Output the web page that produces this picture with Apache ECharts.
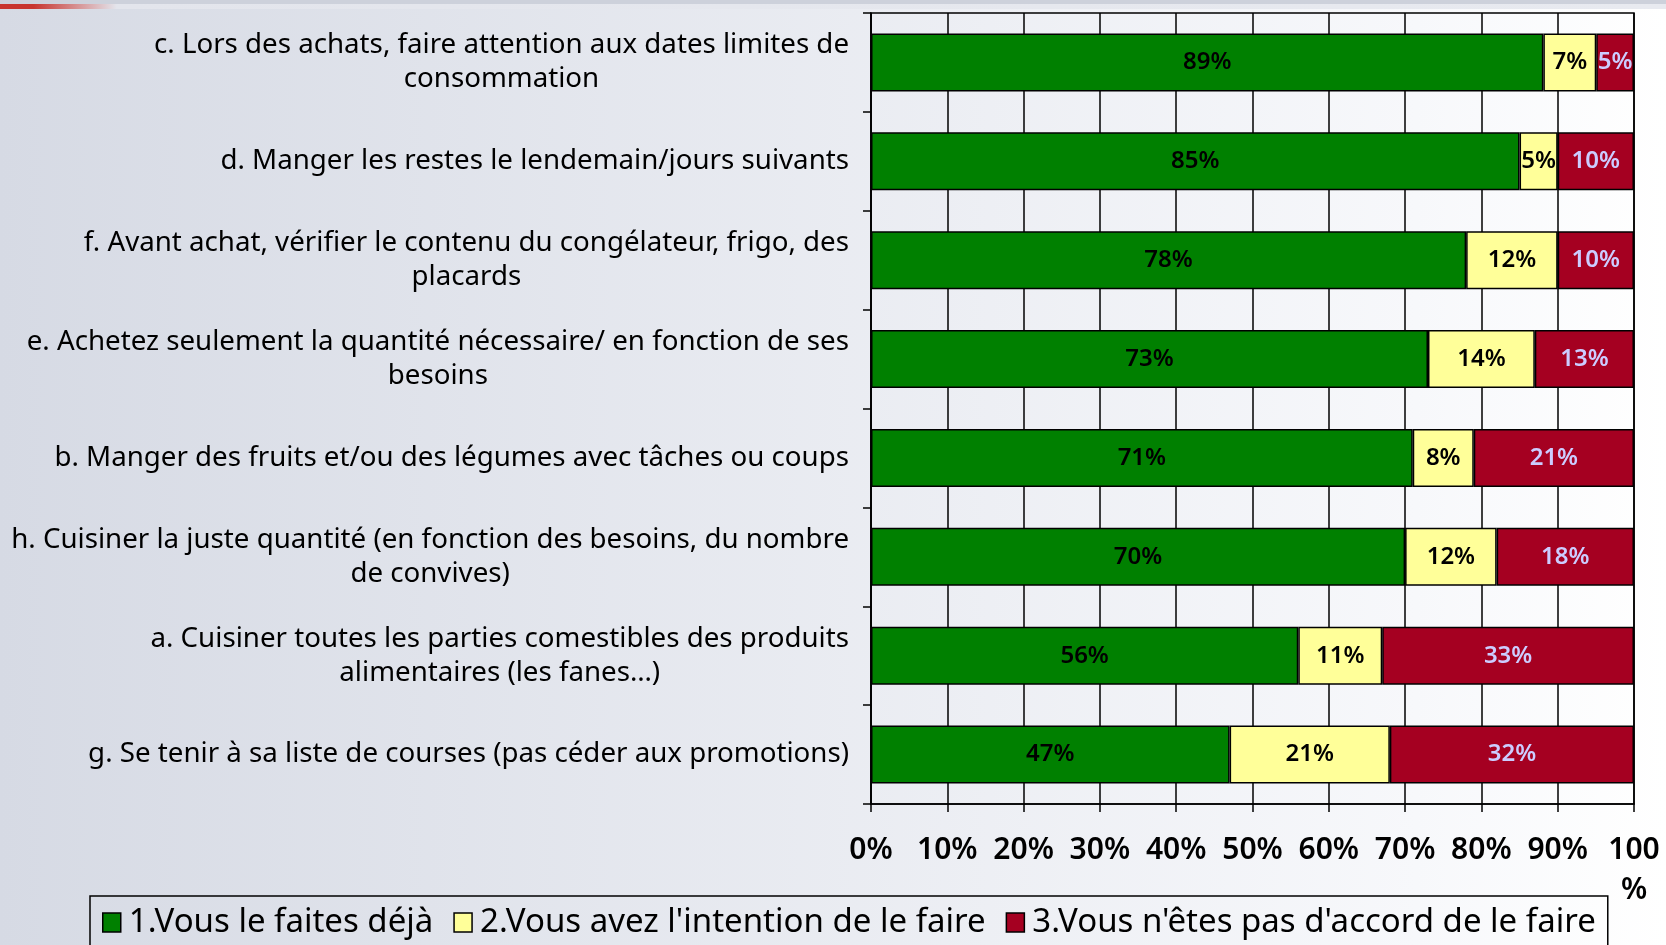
<!DOCTYPE html>
<html>
<head>
<meta charset="utf-8">
<script src="https://cdn.jsdelivr.net/npm/echarts@6/dist/echarts.min.js"></script>
<style>
  html, body { margin: 0; padding: 0; }
  #chart { width: 1666px; height: 945px; }
</style>
</head>
<body>
<div id="chart"></div>
<script>
// categories, top to bottom
var categories = [
  "c. Lors des achats, faire attention aux dates limites de\nconsommation",
  "d. Manger les restes le lendemain/jours suivants",
  "f. Avant achat, vérifier le contenu du congélateur, frigo, des\nplacards",
  "e. Achetez seulement la quantité nécessaire/ en fonction de ses\nbesoins",
  "b. Manger des fruits et/ou des légumes avec tâches ou coups",
  "h. Cuisiner la juste quantité (en fonction des besoins, du nombre\nde convives)",
  "a. Cuisiner toutes les parties comestibles des produits\nalimentaires (les fanes…)",
  "g. Se tenir à sa liste de courses (pas céder aux promotions)"
];
var seriesNames = [
  "1.Vous le faites déjà",
  "2.Vous avez l'intention de le faire",
  "3.Vous n'êtes pas d'accord de le faire"
];
var dejaFait  = [89, 85, 78, 73, 71, 70, 56, 47];
var intention = [7, 5, 12, 14, 8, 12, 11, 21];
var pasAccord = [5, 10, 10, 13, 21, 18, 33, 32];

var colors = ["#008000", "#FFFF99", "#A50021"];
var labelColors = ["#000000", "#000000", "#CCCCFF"];
var font = "Noto Sans";

var myChart = echarts.init(document.getElementById("chart"));

// 100% stacked: each row drawn as a share of its own total
function shares(arr) {
  return arr.map(function (v, i) {
    var total = dejaFait[i] + intention[i] + pasAccord[i];
    return { value: v / total * 100, raw: v };
  });
}

var all = [dejaFait, intention, pasAccord];
var series = all.map(function (arr, k) {
  return {
    name: seriesNames[k],
    type: "bar",
    stack: "total",
    barWidth: 58,
    data: shares(arr),
    itemStyle: { color: colors[k], borderColor: "#000", borderWidth: 1.5 },
    label: {
      show: true,
      position: "inside",
      color: labelColors[k],
      fontFamily: font,
      fontSize: 24,
      fontWeight: 600,
      formatter: function (p) { return p.data.raw + "%"; }
    },
    emphasis: { disabled: true }
  };
});

var option = {
  backgroundColor: new echarts.graphic.LinearGradient(0, 0, 1, 0, [
    { offset: 0, color: "#D6DAE4" },
    { offset: 0.85, color: "#F7F8FB" },
    { offset: 1, color: "#FFFFFF" }
  ]),
  animation: false,
  graphic: [
    {
      type: "rect",
      shape: { x: 0, y: 0, width: 1666, height: 4 },
      style: { fill: "#CDD1DB" }
    },
    {
      type: "rect",
      shape: { x: 0, y: 4, width: 1666, height: 5 },
      style: {
        fill: new echarts.graphic.LinearGradient(0, 0, 1, 0, [
          { offset: 0, color: "#C8342E" },
          { offset: 0.02, color: "#C8342E" },
          { offset: 0.07, color: "#E3E5EC" },
          { offset: 1, color: "#E8EAF0" }
        ])
      }
    }
  ],
  grid: {
    left: 871,
    right: 32,
    top: 13,
    bottom: 141,
    show: true,
    borderColor: "#000",
    borderWidth: 1.5,
    backgroundColor: "transparent"
  },
  legend: {
    data: seriesNames,
    left: 90,
    top: 896,
    padding: [10, 12, 30, 12],
    itemGap: 20,
    itemWidth: 18,
    itemHeight: 19,
    borderColor: "#000",
    borderWidth: 1.5,
    icon: "rect",
    itemStyle: { borderColor: "#000", borderWidth: 1.5 },
    textStyle: { fontFamily: font, fontSize: 33, color: "#000", padding: [0, 0, 0, 3] }
  },
  xAxis: {
    type: "value",
    min: 0,
    max: 100,
    interval: 10,
    axisLine: { show: true, lineStyle: { color: "#000", width: 1.5 } },
    axisTick: { show: true, length: 8, lineStyle: { color: "#000", width: 1.5 } },
    splitLine: { show: true, lineStyle: { color: "#000", width: 1.5 } },
    axisLabel: {
      margin: 26,
      fontFamily: font,
      fontSize: 30,
      fontWeight: 600,
      color: "#000",
      lineHeight: 40,
      formatter: function (v) { return v === 100 ? "100\n%" : v + "%"; }
    }
  },
  yAxis: {
    type: "category",
    inverse: true,
    data: categories,
    axisLine: { show: true, lineStyle: { color: "#000", width: 1.5 } },
    axisTick: { show: true, length: 8, lineStyle: { color: "#000", width: 1.5 } },
    splitLine: { show: false },
    axisLabel: {
      margin: 22,
      formatter: function (v) {
        return v.split("\n").map(function (s) { return "{c|" + s + "}"; }).join("\n");
      },
      rich: {
        c: { align: "center", fontFamily: font, fontSize: 27.7, color: "#000", lineHeight: 34 }
      }
    }
  },
  series: series
};

option && myChart.setOption(option);
</script>
</body>
</html>
